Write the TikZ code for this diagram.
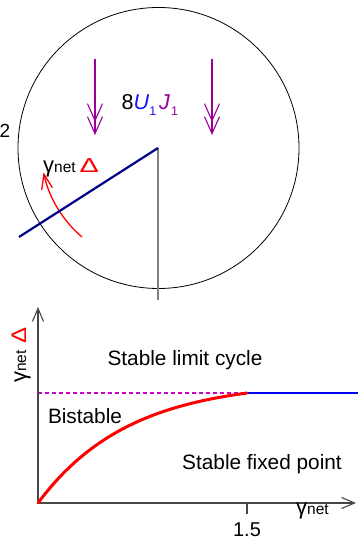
\documentclass[tikz,border=0pt]{standalone}
\usepackage{fontspec}
\setmainfont{Liberation Sans}
\usetikzlibrary{arrows.meta}
\definecolor{pur}{RGB}{153,0,153}
\definecolor{mag}{RGB}{200,0,200}
\definecolor{ublue}{RGB}{20,20,255}
\definecolor{navy}{RGB}{0,0,140}
\definecolor{axgray}{RGB}{70,70,70}
\newcommand{\fsz}[1]{\fontsize{#1bp}{#1bp}\selectfont}
\newcommand{\gnet}{{\fsz{22}γ\fsz{15.5}net}}
\newcommand{\flatDelta}{\textcolor{red}{\fsz{24}\scalebox{1.2}[0.84]{Δ}}}
\newcommand{\tallDelta}{\textcolor{red}{\fsz{24}\scalebox{1.0}[0.88]{Δ}}}
\begin{document}
\begin{tikzpicture}[x=1bp,y=1bp,
  txt/.style={inner sep=0pt, font=\fsz{20.8}},
  purp/.style={draw=pur, line width=1.1bp},
  vtip/.style={-{Straight Barb[length=17bp,width=15bp,line width=1.1bp]}},
  axis/.style={draw=axgray, line width=1.1bp},
  axtip/.style={-{Straight Barb[length=13bp,width=11bp,line width=1.1bp]}}]
\useasboundingbox (0,0) rectangle (358,540);
% --- upper: circle with pendulum ---
\node[draw, circle, minimum size=281bp, inner sep=0pt, line width=0.8bp] (C) at (158.5,392) {};
\coordinate (P) at (158,392);
\coordinate (G) at (158,240);
\coordinate (B) at (19,303);
\coordinate (A0) at (82.0,303.0);
\draw[draw=gray, line width=1.4bp] (P) -- (G);
\draw[red, line width=1.3bp, -{Straight Barb[length=15bp,width=11bp,line width=1.3bp]}]
  (A0) arc[start angle=229.5, end angle=192, radius=117];
\draw[navy, line width=2.2bp] (P) -- (B);
% purple double arrows
\coordinate (L1) at (95,481); \coordinate (L2) at (95,405); \coordinate (L3) at (95,418);
\coordinate (R1) at (212,481); \coordinate (R2) at (212,405); \coordinate (R3) at (212,418);
\draw[purp,vtip] (L1) -- (L2);
\draw[purp,vtip] (L1) -- (L3);
\draw[purp,vtip] (R1) -- (R2);
\draw[purp,vtip] (R1) -- (R3);
% labels
\node[txt, anchor=base west, font=\fsz{21.5}] (eq) at (121.5,430)
  {8\textcolor{ublue}{\textit{U}\raisebox{-6bp}{\fsz{12.5}1}}\hspace{3bp}\textcolor{pur}{\textit{J}\hspace{1bp}\raisebox{-6bp}{\fsz{12.5}1}}};
\node[txt, anchor=base east, font=\fsz{19}] (two) at (10.5,402) {2};
\node[txt, anchor=base west] (gd) at (43,367) {\gnet\hspace{4bp}\flatDelta};
% --- lower: phase diagram ---
\coordinate (O) at (38,37);
\coordinate (Y) at (38,233);
\coordinate (X) at (356,37);
\coordinate (T) at (247,37);
\coordinate (Tb) at (247,26);
\coordinate (Lh) at (38,147);
\coordinate (E) at (247,147);
\coordinate (Rh) at (358,147);
\draw[mag, dash pattern=on 4bp off 3bp, line width=1.3bp] (Lh) -- (E);
\draw[blue, line width=1.5bp] (E) -- (Rh);
\draw[axis, axtip] (O) -- (Y);
\draw[axis, axtip] (O) -- (X);
\draw[axis] (T) -- (Tb);
\draw[red, line width=3bp, line cap=round] plot[domain=0:1, samples=60, variable=\t]
  ({38+209*\t},{37+110*(1-exp(-2.3*\t))/(1-exp(-2.3))});
\node[txt, anchor=base] (slc) at (185,174) {Stable limit cycle};
\node[txt, anchor=base] (bis) at (85,116) {Bistable};
\node[txt, anchor=base] (sfp) at (262,70) {Stable fixed point};
\node[txt, anchor=base, font=\fsz{20}] (t15) at (247,3.5) {1.5};
\node[txt, anchor=base west] (xl) at (296,25) {\gnet};
\node[txt, anchor=base west, rotate=90] (yl) at (26,157) {\gnet\hspace{7bp}\tallDelta};
\end{tikzpicture}
\end{document}
